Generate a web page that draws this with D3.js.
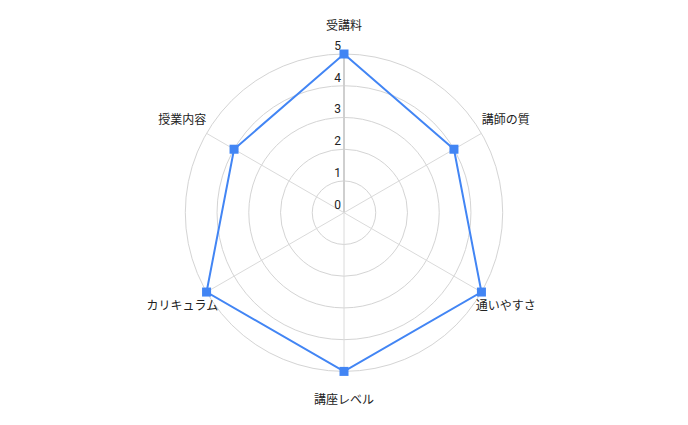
<!DOCTYPE html>
<html>
<head>
<meta charset="utf-8">
<script src="https://cdn.jsdelivr.net/npm/d3@7"></script>
<style>
  body { margin: 0; background: #fff; }
  text { font-family: Roboto, "Noto Sans CJK JP", sans-serif; font-size: 12px; fill: #222; }
</style>
</head>
<body>
<div id="chart"></div>
<script>
// data
const categories = ["受講料", "講師の質", "通いやすさ", "講座レベル", "カリキュラム", "授業内容"];
const values = [5, 4, 5, 5, 5, 4];
const ticks = [0, 1, 2, 3, 4, 5];

const width = 688,
    height = 425,
    cx = 344,
    cy = 212.7,
    radius = 158.7;

const svg = d3.select("#chart")
    .append("svg")
    .attr("width", width)
    .attr("height", height)
    .append("g")
    .attr("transform", "translate(" + cx + "," + cy + ")");

const r = d3.scaleLinear().domain([0, 5]).range([0, radius]);
const angle = d3.scalePoint()
    .domain(categories)
    .range([0, 2 * Math.PI * (categories.length - 1) / categories.length]);

function px(a, rr) { return rr * Math.sin(a); }
function py(a, rr) { return -rr * Math.cos(a); }

// grid circles
svg.append("g").selectAll("circle")
    .data(ticks.filter(t => t > 0))
    .enter().append("circle")
    .attr("r", d => r(d))
    .attr("fill", "none")
    .attr("stroke", "#d4d4d4")
    .attr("stroke-width", 1);

// spokes
svg.append("g").selectAll("line")
    .data(categories)
    .enter().append("line")
    .attr("x1", 0).attr("y1", 0)
    .attr("x2", d => px(angle(d), radius))
    .attr("y2", d => py(angle(d), radius))
    .attr("stroke", (d, i) => i === 0 ? "#cfcfcf" : "#dadada")
    .attr("stroke-width", (d, i) => i === 0 ? 2 : 1);

// tick labels
svg.append("g").selectAll("text")
    .data(ticks)
    .enter().append("text")
    .attr("x", -3)
    .attr("y", d => -r(d) - 4)
    .attr("text-anchor", "end")
    .text(d => d);

// category labels
svg.append("g").selectAll("text")
    .data(categories)
    .enter().append("text")
    .attr("x", d => px(angle(d), radius + 28))
    .attr("y", d => py(angle(d), radius + 28))
    .attr("dy", "0.35em")
    .attr("text-anchor", "middle")
    .text(d => d);

// series
const pts = values.map((v, i) => [px(angle(categories[i]), r(v)), py(angle(categories[i]), r(v))]);

svg.append("path")
    .datum(pts)
    .attr("d", d3.line().curve(d3.curveLinearClosed))
    .attr("fill", "none")
    .attr("stroke", "#4285f4")
    .attr("stroke-width", 2);

svg.append("g").selectAll("rect")
    .data(pts)
    .enter().append("rect")
    .attr("x", d => d[0] - 4.5)
    .attr("y", d => d[1] - 4.5)
    .attr("width", 9)
    .attr("height", 9)
    .attr("fill", "#4285f4");
</script>
</body>
</html>
